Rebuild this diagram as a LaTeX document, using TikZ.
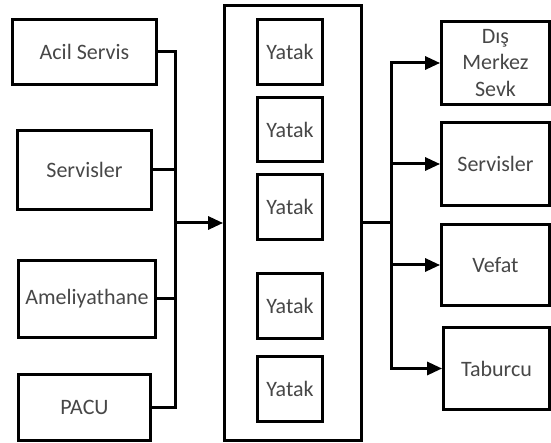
\documentclass[tikz,border=0pt]{standalone}
\usepackage{fontspec}
\setmainfont{Carlito}
\usetikzlibrary{arrows.meta}
\tikzset{
  box/.style={draw=black, line width=2.8pt, rectangle, inner sep=0pt,
    align=center, text=black!72, font=\fontsize{22}{26.5}\selectfont},
  link/.style={draw=black, line width=3pt},
  flow/.style={link, -{Triangle[length=15pt,width=13pt]}}
}
\begin{document}
\begin{tikzpicture}[x=1pt,y=-1pt]
\useasboundingbox (0,0) rectangle (551,443);

% sources
\node[box, minimum width=144pt, minimum height=65pt] (acil) at (84.5,52) {Acil Servis};
\node[box, minimum width=134pt, minimum height=79pt] (servl) at (84.5,170) {Servisler};
\node[box, minimum width=137pt, minimum height=77pt] (ameli) at (87,299) {Ameliyathane};
\node[box, minimum width=132pt, minimum height=66pt] (pacu) at (84.5,407.5) {PACU};

% ward with beds
\node[box, minimum width=137pt, minimum height=435pt] (ward) at (293,223) {};
\node[box, minimum width=65pt, minimum height=65pt] (bed1) at (290,52) {Yatak};
\node[box, minimum width=65pt, minimum height=64pt] (bed2) at (290,129.5) {Yatak};
\node[box, minimum width=65pt, minimum height=65pt] (bed3) at (290,207) {Yatak};
\node[box, minimum width=65pt, minimum height=65pt] (bed4) at (290,306) {Yatak};
\node[box, minimum width=65pt, minimum height=65pt] (bed5) at (290,389) {Yatak};

% outcomes
\node[box, minimum width=108pt, minimum height=83pt] (sevk) at (495.5,63) {Dış\\Merkez\\Sevk};
\node[box, minimum width=108pt, minimum height=83pt] (servr) at (495.5,164) {Servisler};
\node[box, minimum width=108pt, minimum height=81pt] (vefat) at (495.5,265) {Vefat};
\node[box, minimum width=106pt, minimum height=82pt] (tabur) at (496.5,368.5) {Taburcu};

% junctions
\coordinate (lbus) at (175,223);
\coordinate (rbus) at (391,223);

% inflow
\draw[link] (acil.east) -| (lbus);
\draw[link] (servl.east) -| (lbus);
\draw[link] (ameli.east) -| (lbus);
\draw[link] (pacu.east) -| (lbus);
\draw[flow] (lbus) -- (ward.west);

% outflow
\draw[link] (ward.east) -- (rbus);
\draw[flow] (rbus) |- (sevk.west);
\draw[flow] (rbus) |- (servr.west);
\draw[flow] (rbus) |- (vefat.west);
\draw[flow] (rbus) |- (tabur.west);
\end{tikzpicture}
\end{document}
